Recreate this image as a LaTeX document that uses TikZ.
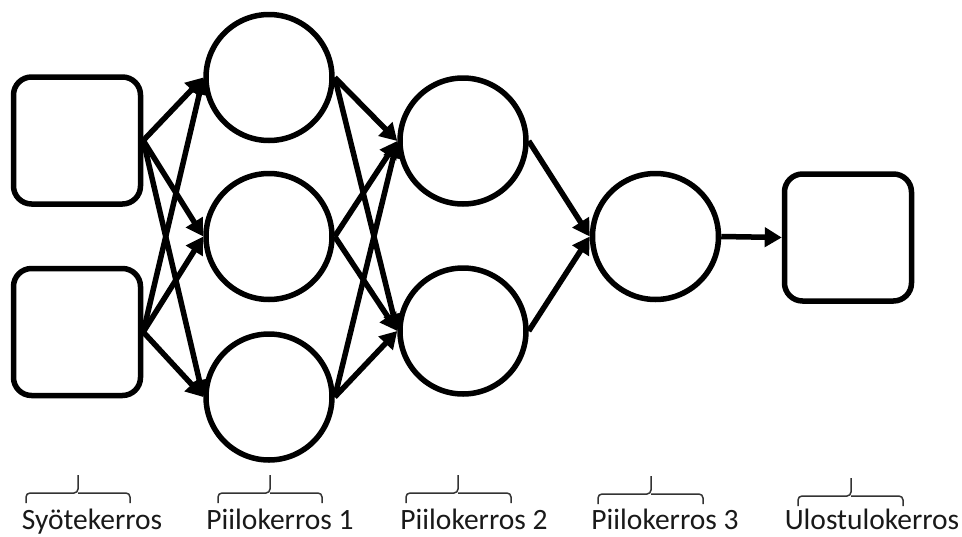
\documentclass[tikz,border=0pt]{standalone}
\usepackage{fontspec}
\setmainfont{Carlito}
\usetikzlibrary{arrows.meta}
\begin{document}
\begin{tikzpicture}[x=1pt,y=-1pt,
  neuron/.style={circle,draw,line width=5.5pt,minimum size=126pt,inner sep=0pt},
  box/.style={rectangle,draw,line width=5.5pt,rounded corners=18pt,minimum width=127pt,minimum height=127pt,inner sep=0pt},
  conn/.style={line width=5.5pt,-{Triangle[length=17pt,width=19pt]}},
  bracepath/.style={line width=1.5pt,draw=black!80,rounded corners=4pt},
  lbl/.style={anchor=base,font=\fontsize{29.5}{34}\selectfont,text=black!90}]
\useasboundingbox (0,0) rectangle (962,536);
\node[box] (i1) at (77,140.5) {};
\node[box] (i2) at (77,332) {};
\node[neuron] (a1) at (269,77.5) {};
\node[neuron] (a2) at (269,236.5) {};
\node[neuron] (a3) at (269,397) {};
\node[neuron] (b1) at (463,141) {};
\node[neuron] (b2) at (463,331) {};
\node[neuron] (c1) at (655.5,236.5) {};
\node[box] (o1) at (848,237.5) {};
\foreach \s in {i1,i2}{\foreach \t in {a1,a2,a3}{\draw[conn] (\s.east) -- (\t.west);}}
\foreach \s in {a1,a2,a3}{\foreach \t in {b1,b2}{\draw[conn] (\s.east) -- (\t.west);}}
\foreach \s in {b1,b2}{\draw[conn] (\s.east) -- (c1.west);}
\draw[conn] (c1.east) -- (o1.west);
% braces
\foreach \xa/\xm/\xb/\yo [count=\k] in {26/78/130/0,218/270/322/0,406/458/511/0,598/651/703/1,798/851/903/3}{
  \coordinate (bl\k) at (\xa,503+\yo);
  \coordinate (bm\k) at (\xm,493+\yo);
  \coordinate (bt\k) at (\xm,475+\yo);
  \coordinate (br\k) at (\xb,503+\yo);
  \draw[bracepath] (bl\k) |- (bm\k) -- (bt\k);
  \draw[bracepath] (br\k) |- (bm\k);
}
\node[lbl] (l1) at (92,529) {Syötekerros};
\node[lbl] (l2) at (280,529) {Piilokerros 1};
\node[lbl] (l3) at (474,529) {Piilokerros 2};
\node[lbl] (l4) at (665,529) {Piilokerros 3};
\node[lbl] (l5) at (872,529) {Ulostulokerros};
\end{tikzpicture}
\end{document}
